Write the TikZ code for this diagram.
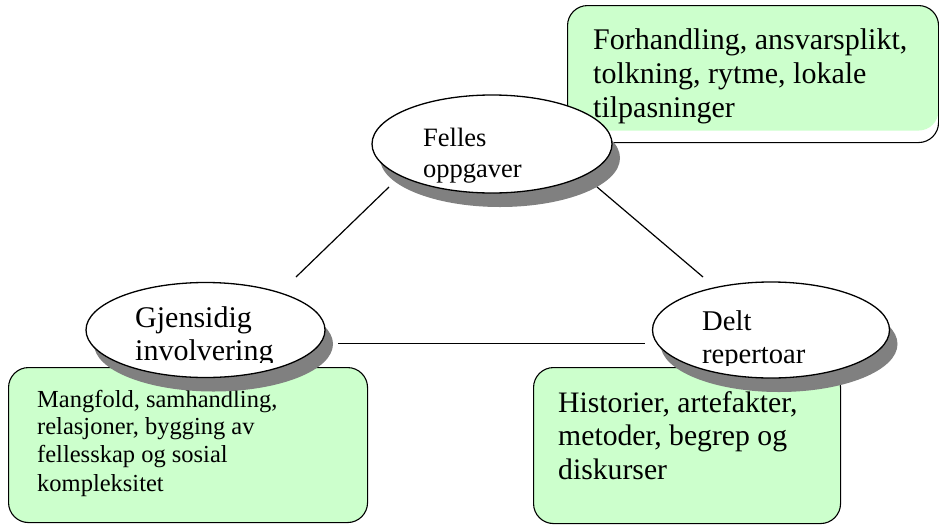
\documentclass[tikz,border=0pt]{standalone}
\usepackage{fontspec}
\setmainfont{Liberation Serif}
\usetikzlibrary{shapes.geometric,shadows}
\definecolor{boxgreen}{RGB}{204,255,204}
\definecolor{shadowgray}{RGB}{128,128,128}
\begin{document}
\begin{tikzpicture}[x=1pt,y=-1pt,
  box/.style={draw=black, line width=1.1pt, rounded corners=20pt, inner sep=0pt, anchor=north west},
  bubble/.style={ellipse, draw=black, line width=1.3pt, fill=white, inner sep=0pt,
    drop shadow={shadow xshift=8pt, shadow yshift=-14pt, fill=shadowgray, opacity=1}},
  conn/.style={line width=1.2pt},
  txt/.style={anchor=base west, inner sep=0pt}
]
\useasboundingbox (0,0) rectangle (939,525);

% boxes
\node[box, minimum width=371pt, minimum height=137pt,
  path picture={\fill[boxgreen] (path picture bounding box.north west) rectangle ([yshift=12pt]path picture bounding box.south east);}]
  (topbox) at (567,5) {};
\node[box, fill=boxgreen, minimum width=359pt, minimum height=155pt] (leftbox) at (8,367) {};
\node[box, fill=boxgreen, minimum width=307pt, minimum height=156pt] (rightbox) at (533,367) {};

% box texts
\begin{scope}[every node/.style={txt, font=\fontsize{30pt}{34pt}\selectfont}]
\node (tA) at (593,49) {Forhandling, ansvarsplikt,};
\node (tB) at (593,83) {tolkning, rytme, lokale};
\node (tC) at (593,117) {tilpasninger};
\end{scope}
\begin{scope}[every node/.style={txt, font=\fontsize{24.5pt}{28pt}\selectfont}]
\node (mA) at (37,407) {Mangfold, samhandling,};
\node (mB) at (37,434) {relasjoner, bygging av};
\node (mC) at (37,462) {fellesskap og sosial};
\node (mD) at (37,491) {kompleksitet};
\end{scope}
\begin{scope}[every node/.style={txt, font=\fontsize{29.7pt}{34pt}\selectfont}]
\node (hA) at (558,412) {Historier, artefakter,};
\node (hB) at (558,445) {metoder, begrep og};
\node (hC) at (558,479) {diskurser};
\end{scope}

% ellipses
\node[bubble, minimum width=240pt, minimum height=98pt] (fel) at (492,144) {};
\node[bubble, minimum width=239pt, minimum height=95pt] (gje) at (205.5,330) {};
\node[bubble, minimum width=237pt, minimum height=96pt] (delt) at (771,330) {};

% ellipse texts
\begin{scope}[every node/.style={txt, font=\fontsize{26.5pt}{32pt}\selectfont}]
\node (fA) at (423,146) {Felles};
\node (fB) at (423,177) {oppgaver};
\end{scope}
\begin{scope}
\clip (100,280) rectangle (330,362);
\node[txt, font=\fontsize{30pt}{32pt}\selectfont] (gA) at (135,327) {Gjensidig};
\node[txt, font=\fontsize{30pt}{32pt}\selectfont] (gB) at (135,360) {involvering};
\end{scope}
\begin{scope}
\clip (660,280) rectangle (890,365);
\node[txt, font=\fontsize{28.6pt}{32pt}\selectfont] (dA) at (702,330) {Delt};
\node[txt, font=\fontsize{28.6pt}{32pt}\selectfont] (dB) at (702,363) {repertoar};
\end{scope}

% connectors
\draw[conn] ([shift={(-103,43)}]fel.center) -- ([shift={(90.5,-53)}]gje.center);
\draw[conn] ([shift={(105,43)}]fel.center) -- ([shift={(-68,-53)}]delt.center);
\draw[conn] ([shift={(132.5,13.5)}]gje.center) -- ([shift={(-126,13.5)}]delt.center);
\end{tikzpicture}
\end{document}
